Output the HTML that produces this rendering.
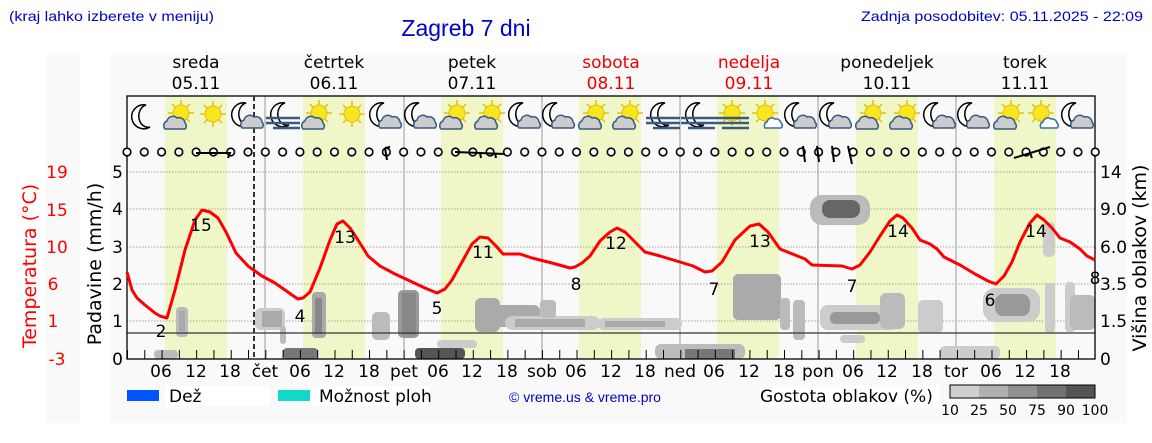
<!DOCTYPE html>
<html><head><meta charset="utf-8"><style>
body{margin:0;background:#fff;}
svg{display:block;font-family:"DejaVu Sans","Liberation Sans",sans-serif;}
</style></head><body>
<svg width="1152" height="443" viewBox="0 0 1152 443" xmlns="http://www.w3.org/2000/svg">
<defs>
<pattern id="circ" x="127" y="143" width="17.29" height="18" patternUnits="userSpaceOnUse">
<circle cx="0" cy="9" r="3.8" fill="#fff" stroke="#000" stroke-width="1.6"/>
<circle cx="17.29" cy="9" r="3.8" fill="#fff" stroke="#000" stroke-width="1.6"/>
</pattern>
<pattern id="tick" x="127" y="350" width="17.29" height="9" patternUnits="userSpaceOnUse">
<line x1="0.5" y1="0" x2="0.5" y2="9" stroke="#000" stroke-width="1"/>
</pattern>
<g id="moon"><path d="M2,-12 A12,12 0 1,0 6,10 A9,11 0 0,1 2,-12Z" fill="#fff" stroke="#000" stroke-width="1.5"/></g>
<g id="sun"><g stroke="#e8c000" stroke-width="1.5"><line x1="-13" y1="0" x2="13" y2="0"/><line x1="0" y1="-13" x2="0" y2="13"/><line x1="-9" y1="-9" x2="9" y2="9"/><line x1="-9" y1="9" x2="9" y2="-9"/></g><circle r="8" fill="#f7e51f" stroke="#e8c000"/></g>
<g id="cloud"><path d="M-10,6 A5,5 0 0,1 -8,-2 A6,6 0 0,1 2,-5 A6,6 0 0,1 10,0 A4,4 0 0,1 10,6 Z" fill="#ccc" stroke="#3a5a80" stroke-width="1.5"/></g>
<g id="wcloud"><path d="M-8,5 A4,4 0 0,1 -6,-1 A5,5 0 0,1 2,-4 A5,5 0 0,1 8,0 A3,3 0 0,1 8,5 Z" fill="#fff" stroke="#3a6ab0" stroke-width="1.5"/></g>
<g id="fog"><g stroke="#3a5a80" stroke-width="2.5"><line x1="-17" y1="-1" x2="17" y2="-1"/><line x1="-17" y1="4" x2="17" y2="4"/><line x1="-10" y1="9" x2="17" y2="9"/></g></g>
<g id="moonC"><use href="#moon" x="-4" y="-2"/><use href="#cloud" x="4" y="5"/></g>
<g id="sunC"><use href="#sun" x="2" y="-4"/><use href="#cloud" x="-4" y="6"/></g>
<g id="sunW"><use href="#sun" x="-2" y="-4"/><use href="#wcloud" x="6" y="6"/></g>
<g id="moonF"><use href="#moon" x="0" y="-2"/><use href="#fog" x="0" y="2"/></g>
<g id="sunF"><use href="#sun" x="0" y="-4"/><use href="#fog" x="0" y="2"/></g>
</defs>
<rect x="45" y="55" width="35" height="368" fill="#f9f9f9"/>
<rect x="110" y="55" width="1017" height="368" fill="#f9f9f9"/>
<g fill="#eff7c9">
<rect x="165" y="96" width="62" height="263"/>
<rect x="303" y="96" width="62" height="263"/>
<rect x="441" y="96" width="62" height="263"/>
<rect x="579" y="96" width="62" height="263"/>
<rect x="717" y="96" width="62" height="263"/>
<rect x="856" y="96" width="62" height="263"/>
<rect x="994" y="96" width="62" height="263"/>
</g>
<g stroke="#888" stroke-width="0.8" stroke-dasharray="1.5,1.5">
<line x1="127" y1="172" x2="1095" y2="172"/><line x1="127" y1="209" x2="1095" y2="209"/>
<line x1="127" y1="247" x2="1095" y2="247"/><line x1="127" y1="284" x2="1095" y2="284"/>
<line x1="127" y1="321" x2="1095" y2="321"/>
</g>
<g stroke="#999" stroke-width="1">
<line x1="265" y1="96" x2="265" y2="359"/><line x1="404" y1="96" x2="404" y2="359"/>
<line x1="542" y1="96" x2="542" y2="359"/><line x1="680" y1="96" x2="680" y2="359"/>
<line x1="818" y1="96" x2="818" y2="359"/><line x1="956" y1="96" x2="956" y2="359"/>
</g>
<g>
<rect x="154" y="350" width="24" height="9" rx="4" fill="#bbb"/>
<rect x="176" y="307" width="12" height="30" rx="4" fill="#bbb"/><rect x="179" y="311" width="6" height="20" fill="#aaa"/>
<rect x="255" y="308" width="30" height="22" rx="6" fill="#ccc"/><rect x="262" y="311" width="20" height="16" fill="#aaa"/>
<rect x="280" y="326" width="6" height="18" rx="3" fill="#bbb"/>
<rect x="312" y="292" width="14" height="46" rx="4" fill="#aaa"/><rect x="315" y="298" width="7" height="36" fill="#888"/>
<rect x="283" y="348" width="35" height="11" rx="4" fill="#777"/>
<rect x="372" y="312" width="18" height="28" rx="5" fill="#bbb"/>
<rect x="398" y="290" width="21" height="48" rx="5" fill="#999"/><rect x="402" y="293" width="14" height="42" fill="#888"/>
<rect x="415" y="348" width="50" height="11" rx="4" fill="#555"/>
<rect x="437" y="340" width="40" height="8" rx="4" fill="#ccc"/>
<rect x="475" y="298" width="25" height="34" rx="6" fill="#aaa"/>
<rect x="495" y="305" width="45" height="22" rx="6" fill="#aaa"/>
<rect x="505" y="316" width="95" height="14" rx="7" fill="#ccc"/><rect x="515" y="319" width="70" height="8" fill="#aaa"/>
<rect x="540" y="300" width="16" height="18" rx="4" fill="#bbb"/>
<rect x="598" y="318" width="84" height="12" rx="6" fill="#ccc"/><rect x="605" y="321" width="60" height="6" fill="#aaa"/>
<rect x="655" y="344" width="90" height="15" rx="6" fill="#bbb"/><rect x="685" y="349" width="50" height="10" fill="#777"/>
<rect x="733" y="274" width="48" height="46" rx="5" fill="#aaa"/>
<rect x="780" y="298" width="10" height="32" rx="4" fill="#bbb"/><rect x="793" y="300" width="12" height="40" rx="4" fill="#bbb"/>
<rect x="810" y="195" width="60" height="30" rx="12" fill="#bbb"/><rect x="822" y="200" width="38" height="18" rx="8" fill="#666"/>
<rect x="820" y="305" width="80" height="25" rx="8" fill="#ccc"/><rect x="830" y="312" width="50" height="12" rx="5" fill="#999"/>
<rect x="880" y="293" width="25" height="36" rx="6" fill="#bbb"/>
<rect x="918" y="300" width="25" height="33" rx="5" fill="#ccc"/>
<rect x="840" y="335" width="25" height="8" rx="4" fill="#ccc"/>
<rect x="940" y="346" width="60" height="13" rx="5" fill="#ccc"/>
<rect x="983" y="288" width="57" height="34" rx="12" fill="#ccc"/><rect x="995" y="294" width="35" height="22" rx="8" fill="#999"/>
<rect x="1043" y="222" width="12" height="35" rx="5" fill="#ccc"/>
<rect x="1045" y="283" width="10" height="50" rx="4" fill="#ccc"/>
<rect x="1065" y="282" width="10" height="50" rx="4" fill="#ccc"/>
<rect x="1070" y="295" width="25" height="35" rx="5" fill="#bbb"/>
</g>
<line x1="127" y1="333" x2="1095" y2="333" stroke="#333" stroke-width="1.2"/>
<rect x="127" y="96" width="968" height="263" fill="none" stroke="#000" stroke-width="1.3"/>
<line x1="254" y1="96" x2="254" y2="359" stroke="#333" stroke-width="2" stroke-dasharray="5,3"/>
<rect x="127" y="350" width="968" height="9" fill="url(#tick)"/>
<rect x="120" y="143" width="985" height="18" fill="url(#circ)"/>
<g stroke="#000" stroke-width="2" fill="none">
<path d="M196,153 L230,153 L228,158"/>
<path d="M385,148 L387,160 M385,148 L390,147"/>
<path d="M455,152 L505,154 M480,153 L481,158 M495,153 L496,158"/>
<path d="M803,146 L805,162 M817,146 L819,162 M832,146 L834,162 M848,146 L852,164"/>
<path d="M1014,158 L1050,147 M1030,153 L1032,158"/>
</g>
<g>
<use href="#moon" x="144" y="117"/><use href="#sunC" x="179" y="117"/><use href="#sun" x="213" y="114"/><use href="#moonC" x="248" y="117"/>
<use href="#moonF" x="283" y="117"/><use href="#sunC" x="317" y="117"/><use href="#sun" x="352" y="114"/><use href="#moonC" x="386" y="117"/>
<use href="#moonC" x="421" y="117"/><use href="#sunC" x="455" y="117"/><use href="#sunC" x="490" y="117"/><use href="#moonC" x="525" y="117"/>
<use href="#moonC" x="559" y="117"/><use href="#sunC" x="594" y="117"/><use href="#sunC" x="628" y="117"/><use href="#moonF" x="663" y="117"/>
<use href="#moonF" x="698" y="117"/><use href="#sunF" x="732" y="117"/><use href="#sunW" x="767" y="117"/><use href="#moonC" x="801" y="117"/>
<use href="#moonC" x="836" y="117"/><use href="#sunC" x="871" y="117"/><use href="#sunC" x="905" y="117"/><use href="#moonC" x="940" y="117"/>
<use href="#moonC" x="974" y="117"/><use href="#sunC" x="1009" y="117"/><use href="#sunW" x="1043" y="117"/><use href="#moonC" x="1078" y="117"/>
</g>
<polyline fill="none" stroke="#f00" stroke-width="3" stroke-linejoin="round" points="127,272 132,290 137,298 145,305 155,313 160,316 167,318 175,290 185,250 195,220 202,210 210,212 218,218 226,232 236,253 248,266 262,276 275,283 285,290 292,295 298,299 303,298 310,292 320,268 330,240 337,224 343,221 350,228 358,240 368,256 380,266 395,274 410,281 425,288 437,293 445,289 452,280 462,262 472,244 480,237 488,238 496,246 503,254 520,254 532,258 552,263 570,268 575,267 582,263 590,256 600,241 610,232 617,228 625,232 635,242 645,252 660,256 680,262 693,266 705,272 712,271 722,262 735,240 750,226 759,224 768,232 780,249 790,253 805,259 812,265 842,266 852,269 860,265 870,252 880,236 890,221 897,215 903,218 912,228 920,240 930,244 937,249 944,257 960,265 975,274 988,281 996,284 1004,276 1012,262 1020,242 1030,223 1037,215 1044,220 1052,228 1060,238 1070,242 1080,249 1087,256 1095,260"/>
<g font-size="17" fill="#000" text-anchor="middle">
<text x="161" y="337">2</text><text x="201" y="231">15</text><text x="300" y="322">4</text><text x="345" y="243">13</text>
<text x="437" y="314">5</text><text x="483" y="258">11</text><text x="576" y="290">8</text><text x="616" y="249">12</text>
<text x="714" y="295">7</text><text x="760" y="247">13</text><text x="852" y="292">7</text><text x="898" y="237">14</text>
<text x="990" y="306">6</text><text x="1036" y="237">14</text><text x="1095" y="284">8</text>
</g>
<g font-size="17" fill="#000" text-anchor="middle">
<text x="196" y="68">sreda</text><text x="196" y="89">05.11</text>
<text x="334" y="68">četrtek</text><text x="334" y="89">06.11</text>
<text x="472" y="68">petek</text><text x="472" y="89">07.11</text>
<text x="611" y="68" fill="#e00">sobota</text><text x="611" y="89" fill="#e00">08.11</text>
<text x="749" y="68" fill="#e00">nedelja</text><text x="749" y="89" fill="#e00">09.11</text>
<text x="887" y="68">ponedeljek</text><text x="887" y="89">10.11</text>
<text x="1025" y="68">torek</text><text x="1025" y="89">11.11</text>
</g>
<g font-size="17" fill="#000" text-anchor="middle">
<text x="161" y="377">06</text><text x="196" y="377">12</text><text x="230" y="377">18</text><text x="265" y="377">čet</text>
<text x="300" y="377">06</text><text x="334" y="377">12</text><text x="369" y="377">18</text><text x="404" y="377">pet</text>
<text x="438" y="377">06</text><text x="472" y="377">12</text><text x="507" y="377">18</text><text x="542" y="377">sob</text>
<text x="576" y="377">06</text><text x="611" y="377">12</text><text x="645" y="377">18</text><text x="680" y="377">ned</text>
<text x="714" y="377">06</text><text x="749" y="377">12</text><text x="784" y="377">18</text><text x="818" y="377">pon</text>
<text x="853" y="377">06</text><text x="887" y="377">12</text><text x="922" y="377">18</text><text x="956" y="377">tor</text>
<text x="991" y="377">06</text><text x="1025" y="377">12</text><text x="1060" y="377">18</text>
</g>
<g font-size="17" fill="#000" text-anchor="end">
<text x="123" y="178">5</text><text x="123" y="215">4</text><text x="123" y="253">3</text><text x="123" y="290">2</text><text x="123" y="327">1</text><text x="123" y="365">0</text>
</g>
<g font-size="17" fill="#000" text-anchor="start">
<text x="1100" y="178">14</text><text x="1100" y="215">9.0</text><text x="1100" y="253">6.0</text><text x="1100" y="290">3.5</text><text x="1100" y="327">1.5</text><text x="1100" y="365">0</text>
</g>
<g font-size="17" fill="#f00" text-anchor="middle">
<text x="57" y="178">19</text><text x="57" y="216">15</text><text x="57" y="253">10</text><text x="53" y="290">6</text><text x="53" y="327">1</text><text x="57" y="365">-3</text>
</g>
<text transform="translate(36,266) rotate(-90)" font-size="19" fill="#f00" text-anchor="middle">Temperatura (°C)</text>
<text transform="translate(101,264) rotate(-90)" font-size="19" fill="#000" text-anchor="middle">Padavine (mm/h)</text>
<text transform="translate(1146,258) rotate(-90)" font-size="19" fill="#000" text-anchor="middle">Višina oblakov (km)</text>
<rect x="127" y="390" width="32" height="11" fill="#0055ff"/>
<rect x="165" y="386" width="105" height="20" fill="#fff"/>
<text x="169" y="402" font-size="17">Dež</text>
<rect x="278" y="390" width="32" height="11" fill="#11d9c7"/>
<rect x="310" y="386" width="120" height="20" fill="#fff"/>
<text x="319" y="402" font-size="17">Možnost ploh</text>
<text x="585" y="402" font-size="14" fill="#00c" text-anchor="middle" font-family="Liberation Sans, sans-serif">© vreme.us &amp; vreme.pro</text>
<rect x="760" y="385" width="180" height="22" fill="#fff"/>
<text x="760" y="402" font-size="17">Gostota oblakov (%)</text>
<rect x="950" y="385" width="29" height="13" fill="#cfcfcf"/><rect x="979" y="385" width="29" height="13" fill="#b0b0b0"/>
<rect x="1008" y="385" width="29" height="13" fill="#919191"/><rect x="1037" y="385" width="29" height="13" fill="#727272"/>
<rect x="1066" y="385" width="29" height="13" fill="#555"/>
<rect x="950" y="385" width="145" height="13" fill="none" stroke="#000"/>
<g font-size="14" text-anchor="middle"><text x="950" y="415">10</text><text x="979" y="415">25</text><text x="1008" y="415">50</text><text x="1037" y="415">75</text><text x="1066" y="415">90</text><text x="1095" y="415">100</text></g>
<text x="9" y="21" font-size="14" fill="#00c" font-family="Liberation Sans, sans-serif" textLength="205" lengthAdjust="spacingAndGlyphs">(kraj lahko izberete v meniju)</text>
<text x="466" y="36" font-size="23" fill="#00c" text-anchor="middle" font-family="Liberation Sans, sans-serif">Zagreb 7 dni</text>
<text x="1143" y="21" font-size="14" fill="#00c" text-anchor="end" font-family="Liberation Sans, sans-serif" textLength="282" lengthAdjust="spacingAndGlyphs">Zadnja posodobitev: 05.11.2025 - 22:09</text>
</svg>
</body></html>
